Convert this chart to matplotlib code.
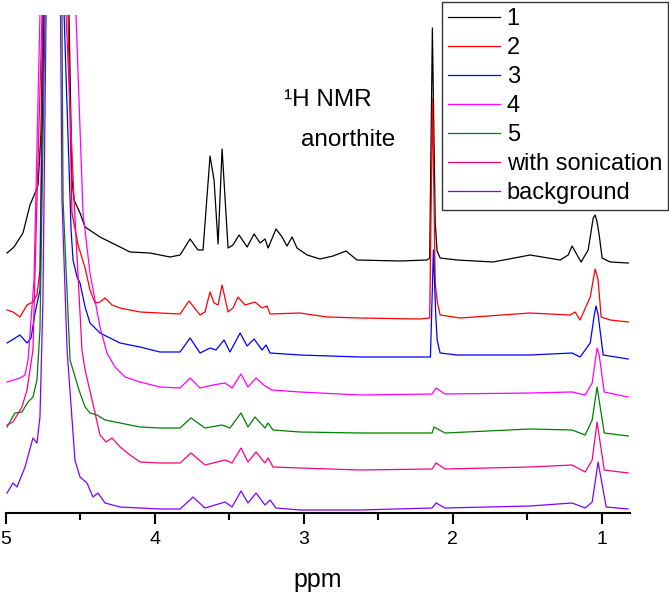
import matplotlib
matplotlib.use("Agg")
import matplotlib.pyplot as plt
from matplotlib.ticker import MultipleLocator

plt.rcParams['font.family'] = ['Liberation Sans', 'DejaVu Sans']

# chemical shift (ppm) / intensity points, each trace already stacked
ppm_1 = [4.993, 4.946, 4.886, 4.839, 4.805, 4.785, 4.765, 4.752, 4.69, 4.577, 4.557, 4.543, 4.503, 4.469,
         4.369, 4.234, 4.167, 4.033, 3.899, 3.831, 3.764, 3.711, 3.677, 3.630, 3.603, 3.576, 3.549, 3.509,
         3.476, 3.435, 3.381, 3.334, 3.294, 3.261, 3.240, 3.187, 3.146, 3.113, 3.079, 3.046, 2.978, 2.891,
         2.804, 2.717, 2.643, 2.354, 2.173, 2.155, 2.137, 2.118, 2.105, 2.085, 1.971, 1.729, 1.481, 1.279,
         1.225, 1.199, 1.165, 1.138, 1.091, 1.057, 1.044, 1.031, 1.017, 0.997, 0.943, 0.822]
int_1 = [260, 266, 280, 308, 320, 328, 380, 498, 900, 498, 333, 313, 300, 286,
         276, 266, 261, 260, 256, 258, 274, 263, 263, 357, 333, 269, 364, 265,
         268, 278, 266, 279, 270, 274, 265, 284, 276, 267, 276, 265, 258, 254,
         257, 262, 253, 252, 253, 255, 485, 290, 262, 255, 253, 251, 258, 253,
         258, 267, 258, 251, 263, 295, 298, 291, 278, 255, 251, 250]

ppm_2 = [4.993, 4.953, 4.906, 4.859, 4.819, 4.792, 4.772, 4.752, 4.69, 4.584, 4.557, 4.516, 4.469, 4.436,
         4.402, 4.369, 4.335, 4.288, 4.234, 4.100, 3.966, 3.831, 3.771, 3.697, 3.664, 3.630, 3.603, 3.576,
         3.549, 3.509, 3.476, 3.442, 3.395, 3.328, 3.281, 3.247, 3.227, 3.026, 2.844, 2.623, 2.220, 2.155,
         2.136, 2.118, 2.105, 2.085, 1.951, 1.481, 1.212, 1.178, 1.145, 1.077, 1.044, 1.024, 1.004, 0.943,
         0.822]
int_2 = [203, 201, 196, 208, 211, 218, 243, 498, 900, 498, 300, 268, 245, 223,
         210, 211, 215, 208, 205, 201, 200, 199, 212, 198, 201, 221, 210, 208,
         228, 201, 205, 216, 208, 211, 205, 207, 199, 200, 196, 195, 194, 195,
         415, 230, 212, 198, 195, 200, 198, 201, 193, 216, 244, 233, 196, 193,
         191]

ppm_3 = [4.993, 4.906, 4.859, 4.832, 4.805, 4.772, 4.745, 4.69, 4.610, 4.563, 4.550, 4.523, 4.503, 4.469,
         4.436, 4.369, 4.234, 4.100, 3.966, 3.831, 3.764, 3.697, 3.630, 3.590, 3.536, 3.496, 3.428, 3.381,
         3.334, 3.281, 3.254, 3.227, 3.026, 2.623, 2.150, 2.130, 2.115, 2.105, 2.085, 1.971, 1.481, 1.199,
         1.145, 1.077, 1.050, 1.038, 1.024, 0.990, 0.822]
int_3 = [170, 178, 170, 175, 200, 223, 498, 900, 498, 283, 253, 236, 230, 206,
         190, 180, 170, 166, 161, 161, 175, 160, 165, 163, 173, 161, 180, 167,
         174, 163, 168, 160, 158, 156, 156, 263, 200, 173, 160, 158, 158, 160,
         156, 170, 198, 207, 198, 158, 154]

ppm_4 = [4.993, 4.906, 4.872, 4.852, 4.812, 4.772, 4.69, 4.530, 4.483, 4.436, 4.369, 4.322, 4.268, 4.201,
         4.100, 3.966, 3.831, 3.764, 3.697, 3.610, 3.529, 3.482, 3.422, 3.375, 3.321, 3.261, 3.214, 3.026,
         2.623, 2.139, 2.112, 2.052, 1.481, 1.199, 1.111, 1.064, 1.031, 1.017, 0.983, 0.822]
int_4 = [131, 135, 138, 153, 233, 498, 900, 498, 300, 240, 186, 160, 146, 136,
         131, 126, 125, 135, 125, 128, 130, 125, 139, 126, 135, 127, 123, 121,
         118, 119, 125, 119, 120, 121, 118, 130, 165, 158, 121, 116]

ppm_5 = [4.993, 4.940, 4.893, 4.852, 4.819, 4.792, 4.772, 4.738, 4.69, 4.624, 4.617, 4.570, 4.510, 4.469,
         4.436, 4.389, 4.335, 4.234, 4.100, 3.966, 3.831, 3.758, 3.664, 3.549, 3.496, 3.422, 3.375, 3.328,
         3.261, 3.240, 3.207, 3.026, 2.623, 2.139, 2.126, 2.052, 1.481, 1.199, 1.111, 1.064, 1.031, 0.983,
         0.822]
int_5 = [86, 100, 101, 111, 116, 133, 183, 498, 900, 498, 313, 153, 123, 106,
         100, 98, 93, 90, 86, 85, 85, 95, 85, 88, 85, 100, 86, 96,
         85, 90, 83, 81, 80, 80, 86, 80, 84, 83, 78, 93, 126, 80,
         77]

ppm_son = [4.993, 4.953, 4.893, 4.859, 4.819, 4.792, 4.758, 4.69, 4.597, 4.543, 4.490, 4.469, 4.402, 4.369,
           4.328, 4.288, 4.234, 4.167, 4.100, 3.966, 3.831, 3.758, 3.664, 3.529, 3.482, 3.422, 3.375, 3.321,
           3.261, 3.240, 3.207, 3.026, 2.623, 2.139, 2.112, 2.052, 1.481, 1.199, 1.111, 1.064, 1.031, 0.983,
           0.822]
int_son = [88, 91, 106, 123, 163, 313, 498, 900, 498, 313, 163, 143, 100, 78,
           71, 75, 66, 58, 51, 50, 50, 60, 48, 53, 50, 65, 51, 61,
           50, 55, 46, 45, 43, 44, 50, 44, 46, 48, 41, 53, 91, 43,
           40]

ppm_bg = [4.993, 4.953, 4.926, 4.872, 4.819, 4.792, 4.772, 4.752, 4.731, 4.69, 4.634, 4.624, 4.590, 4.537,
          4.503, 4.456, 4.416, 4.382, 4.335, 4.234, 4.100, 3.966, 3.831, 3.744, 3.664, 3.529, 3.482, 3.422,
          3.375, 3.321, 3.261, 3.227, 3.187, 3.026, 2.623, 2.139, 2.112, 2.052, 1.481, 1.199, 1.111, 1.064,
          1.024, 0.970, 0.822]
int_bg = [20, 30, 26, 46, 75, 70, 96, 213, 498, 900, 498, 313, 163, 53,
          36, 30, 16, 20, 10, 6, 5, 4, 4, 16, 5, 11, 6, 22,
          10, 20, 8, 13, 5, 3, 3, 5, 10, 5, 7, 10, 5, 11,
          51, 6, 4]

labels = ['1', '2', '3', '4', '5', 'with sonication', 'background']
colors = ['#000000', '#ff0000', '#0000ff', '#ff00ff', '#008000', '#ff0080', '#8000ff']

fig = plt.figure(figsize=(6.69, 5.94), dpi=100)
ax = fig.add_axes([6 / 669, 1 - 513 / 594, 624 / 669, 498 / 594])

series = [(ppm_1, int_1), (ppm_2, int_2), (ppm_3, int_3), (ppm_4, int_4),
          (ppm_5, int_5), (ppm_son, int_son), (ppm_bg, int_bg)]
lines = []
for (x, y), lab, col in zip(series, labels, colors):
    ln, = ax.plot(x, y, color=col, lw=0.9, label=lab)
    lines.append(ln)

ax.set_xlim(5, 0.81)
ax.set_ylim(0, 498)
ax.set_yticks([])
for side in ['left', 'right', 'top']:
    ax.spines[side].set_visible(False)
ax.spines['bottom'].set_linewidth(1.5)
ax.xaxis.set_major_locator(MultipleLocator(1))
ax.xaxis.set_minor_locator(MultipleLocator(0.5))
ax.tick_params(axis='x', which='major', direction='out', length=8, width=1.5, labelsize=14, pad=5)
ax.tick_params(axis='x', which='minor', direction='out', length=5, width=1.5)
ax.set_xlabel('ppm', fontsize=18, labelpad=14)

ax.text(3.135, 413, '\u00b9H NMR', fontsize=17.5, ha='left', va='center')
ax.text(3.02, 373, 'anorthite', fontsize=17.5, ha='left', va='center')

leg = fig.legend(handles=lines, loc='upper right', bbox_to_anchor=(668 / 669, 1 - 2 / 594),
                 borderaxespad=0, fontsize=17, frameon=True, fancybox=False, edgecolor='black',
                 handlelength=2.2, handletextpad=0.3, labelspacing=0.3, borderpad=0.25)
leg.get_frame().set_linewidth(1.0)

fig.savefig('out.png', dpi=100)
